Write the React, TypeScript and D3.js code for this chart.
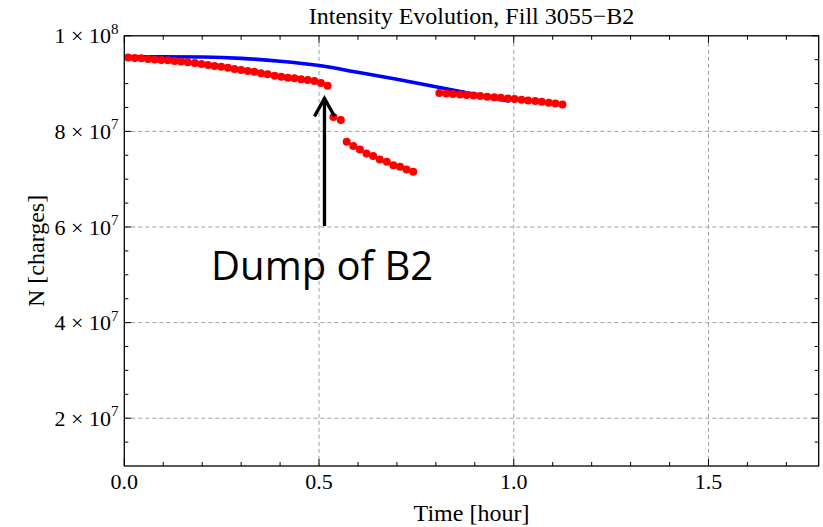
import React from "react";
import * as d3 from "d3";

// ---- Data ----
const seg1Time = [0.010, 0.027, 0.044, 0.061, 0.078, 0.095, 0.112, 0.129, 0.146, 0.163, 0.181, 0.198, 0.215, 0.232, 0.249, 0.266, 0.283, 0.300, 0.317, 0.334, 0.351, 0.368, 0.386, 0.403, 0.420, 0.437, 0.454, 0.471, 0.488, 0.505, 0.522];
const seg1Value = [9.545e7, 9.535e7, 9.529e7, 9.514e7, 9.504e7, 9.493e7, 9.487e7, 9.472e7, 9.462e7, 9.445e7, 9.430e7, 9.409e7, 9.388e7, 9.368e7, 9.351e7, 9.332e7, 9.305e7, 9.284e7, 9.263e7, 9.248e7, 9.215e7, 9.194e7, 9.164e7, 9.143e7, 9.123e7, 9.110e7, 9.089e7, 9.074e7, 9.053e7, 9.011e7, 8.956e7];

const seg2Time = [0.537, 0.556];
const seg2Value = [8.302e7, 8.237e7];

const seg3Time = [0.571, 0.588, 0.605, 0.622, 0.639, 0.656, 0.674, 0.691, 0.708, 0.725, 0.742];
const seg3Value = [7.782e7, 7.692e7, 7.623e7, 7.539e7, 7.483e7, 7.413e7, 7.363e7, 7.294e7, 7.259e7, 7.204e7, 7.154e7];

const seg4Time = [0.809, 0.827, 0.844, 0.862, 0.879, 0.897, 0.914, 0.932, 0.950, 0.967, 0.985, 1.002, 1.020, 1.037, 1.055, 1.072, 1.090, 1.107, 1.125];
const seg4Value = [8.802e7, 8.792e7, 8.781e7, 8.771e7, 8.760e7, 8.750e7, 8.739e7, 8.725e7, 8.712e7, 8.702e7, 8.689e7, 8.676e7, 8.662e7, 8.649e7, 8.635e7, 8.618e7, 8.601e7, 8.584e7, 8.565e7];

const modelTime = [0, 0.1, 0.2, 0.3, 0.4, 0.5, 0.6, 0.7, 0.8, 0.9, 0.99];
const modelValue = [9.562e7, 9.562e7, 9.555e7, 9.527e7, 9.468e7, 9.378e7, 9.236e7, 9.090e7, 8.935e7, 8.775e7, 8.630e7];

const xTicks = [0, 0.5, 1.0, 1.5];
const xTickLabels = ["0.0", "0.5", "1.0", "1.5"];
const xMinorTicks = [0.1, 0.2, 0.3, 0.4, 0.6, 0.7, 0.8, 0.9, 1.1, 1.2, 1.3, 1.4, 1.6, 1.7];
const yTicks = [2e7, 4e7, 6e7, 8e7, 1e8];
const yTickMantissa = ["2", "4", "6", "8", "1"];
const yTickExponent = ["7", "7", "7", "7", "8"];
const yMinorTicks = [1.5e7, 2.5e7, 3e7, 3.5e7, 4.5e7, 5e7, 5.5e7, 6.5e7, 7e7, 7.5e7, 8.5e7, 9e7, 9.5e7];

const titleText = "Intensity Evolution, Fill 3055\u2212B2";
const xLabel = "Time [hour]";
const yLabel = "N [charges]";
const annotationText = "Dump of B2";
const arrowTime = 0.514;
const arrowTipValue = 8.69e7;
const arrowBaseValue = 6.02e7;
const annotationValue = 4.9e7;
const annotationTime = 0.508;

const W = 823;
const H = 527;
const M = { left: 124.3, right: 818.7, top: 35.8, bottom: 466 };

export default function App() {
  const x = d3.scaleLinear().domain([0, 1.783]).range([M.left, M.right]);
  const y = d3.scaleLinear().domain([1e7, 1e8]).range([M.bottom, M.top]);

  const serif = "'Liberation Serif', 'Times New Roman', serif";

  const modelPts = modelTime.map((t, i) => [t, modelValue[i]] as [number, number]);
  const line = d3
    .line<[number, number]>()
    .x((d) => x(d[0]))
    .y((d) => y(d[1]))
    .curve(d3.curveMonotoneX);

  const segments = [
    [seg1Time, seg1Value],
    [seg2Time, seg2Value],
    [seg3Time, seg3Value],
    [seg4Time, seg4Value],
  ];

  const ax = x(arrowTime);
  const tipY = y(arrowTipValue);

  return (
    <svg
      width={W}
      height={H}
      style={{ position: "absolute", left: 0, top: 0, background: "#fff" }}
    >
      <rect x={0} y={0} width={W} height={H} fill="#fff" />
      {/* grid */}
      {xTicks
        .filter((t) => t > 0)
        .map((t) => (
          <line
            key={"gx" + t}
            x1={x(t)}
            x2={x(t)}
            y1={M.top}
            y2={M.bottom}
            stroke="#a0a0a0"
            strokeWidth={1}
            strokeDasharray="4,3"
          />
        ))}
      {yTicks
        .filter((v) => v < 1e8)
        .map((v) => (
          <line
            key={"gy" + v}
            x1={M.left}
            x2={M.right}
            y1={y(v)}
            y2={y(v)}
            stroke="#a0a0a0"
            strokeWidth={1}
            strokeDasharray="4,3"
          />
        ))}

      {/* ticks */}
      {xTicks.map((t) => (
        <g key={"tx" + t}>
          <line x1={x(t)} x2={x(t)} y1={M.bottom} y2={M.bottom - 7} stroke="#000" />
          <line x1={x(t)} x2={x(t)} y1={M.top} y2={M.top + 7} stroke="#000" />
        </g>
      ))}
      {xMinorTicks.map((t) => (
        <g key={"mx" + t}>
          <line x1={x(t)} x2={x(t)} y1={M.bottom} y2={M.bottom - 4} stroke="#000" />
          <line x1={x(t)} x2={x(t)} y1={M.top} y2={M.top + 4} stroke="#000" />
        </g>
      ))}
      {yTicks.map((v) => (
        <g key={"ty" + v}>
          <line x1={M.left} x2={M.left + 7} y1={y(v)} y2={y(v)} stroke="#000" />
          <line x1={M.right} x2={M.right - 7} y1={y(v)} y2={y(v)} stroke="#000" />
        </g>
      ))}
      {yMinorTicks.map((v) => (
        <g key={"my" + v}>
          <line x1={M.left} x2={M.left + 4} y1={y(v)} y2={y(v)} stroke="#000" />
          <line x1={M.right} x2={M.right - 4} y1={y(v)} y2={y(v)} stroke="#000" />
        </g>
      ))}

      {/* model line */}
      <path d={line(modelPts) || ""} fill="none" stroke="#0000ff" strokeWidth={3.6} />

      {/* measured points */}
      {segments.map(([ts, vs], si) =>
        ts.map((t, i) => (
          <circle key={si + "-" + i} cx={x(t)} cy={y(vs[i])} r={4} fill="#ff0000" />
        ))
      )}

      {/* frame */}
      <rect
        x={M.left}
        y={M.top}
        width={M.right - M.left}
        height={M.bottom - M.top}
        fill="none"
        stroke="#000"
        strokeWidth={1.3}
      />

      {/* tick labels */}
      {xTicks.map((t, i) => (
        <text
          key={"lx" + t}
          x={x(t)}
          y={489}
          textAnchor="middle"
          fontFamily={serif}
          fontSize={22}
          fill="#000"
        >
          {xTickLabels[i]}
        </text>
      ))}
      {yTicks.map((v, i) => (
        <text
          key={"ly" + v}
          x={118.5}
          y={y(v) + 7.5}
          textAnchor="end"
          fontFamily={serif}
          fontSize={22}
          fill="#000"
        >
          {yTickMantissa[i] + " \u00d7 10"}
          <tspan fontSize={15} dy={-9.5}>
            {yTickExponent[i]}
          </tspan>
        </text>
      ))}

      {/* title & axis labels */}
      <text
        x={(M.left + M.right) / 2}
        y={24}
        textAnchor="middle"
        fontFamily={serif}
        fontSize={24}
        fill="#000"
      >
        {titleText}
      </text>
      <text
        x={(M.left + M.right) / 2}
        y={521}
        textAnchor="middle"
        fontFamily={serif}
        fontSize={24}
        fill="#000"
      >
        {xLabel}
      </text>
      <text
        transform={`translate(44,${(M.top + M.bottom) / 2}) rotate(-90)`}
        textAnchor="middle"
        fontFamily={serif}
        fontSize={24}
        fill="#000"
      >
        {yLabel}
      </text>

      {/* annotation */}
      <line
        x1={ax}
        x2={ax}
        y1={y(arrowBaseValue)}
        y2={tipY + 1}
        stroke="#000"
        strokeWidth={3.3}
      />
      <polyline
        points={`${ax - 10},${tipY + 18} ${ax},${tipY} ${ax + 10},${tipY + 18}`}
        fill="none"
        stroke="#000"
        strokeWidth={3.3}
        strokeLinejoin="miter"
      />
      <text
        x={x(annotationTime)}
        y={y(annotationValue)}
        textAnchor="middle"
        fontFamily="'Open Sans', sans-serif"
        fontSize={40}
        fill="#000"
      >
        {annotationText}
      </text>
    </svg>
  );
}
